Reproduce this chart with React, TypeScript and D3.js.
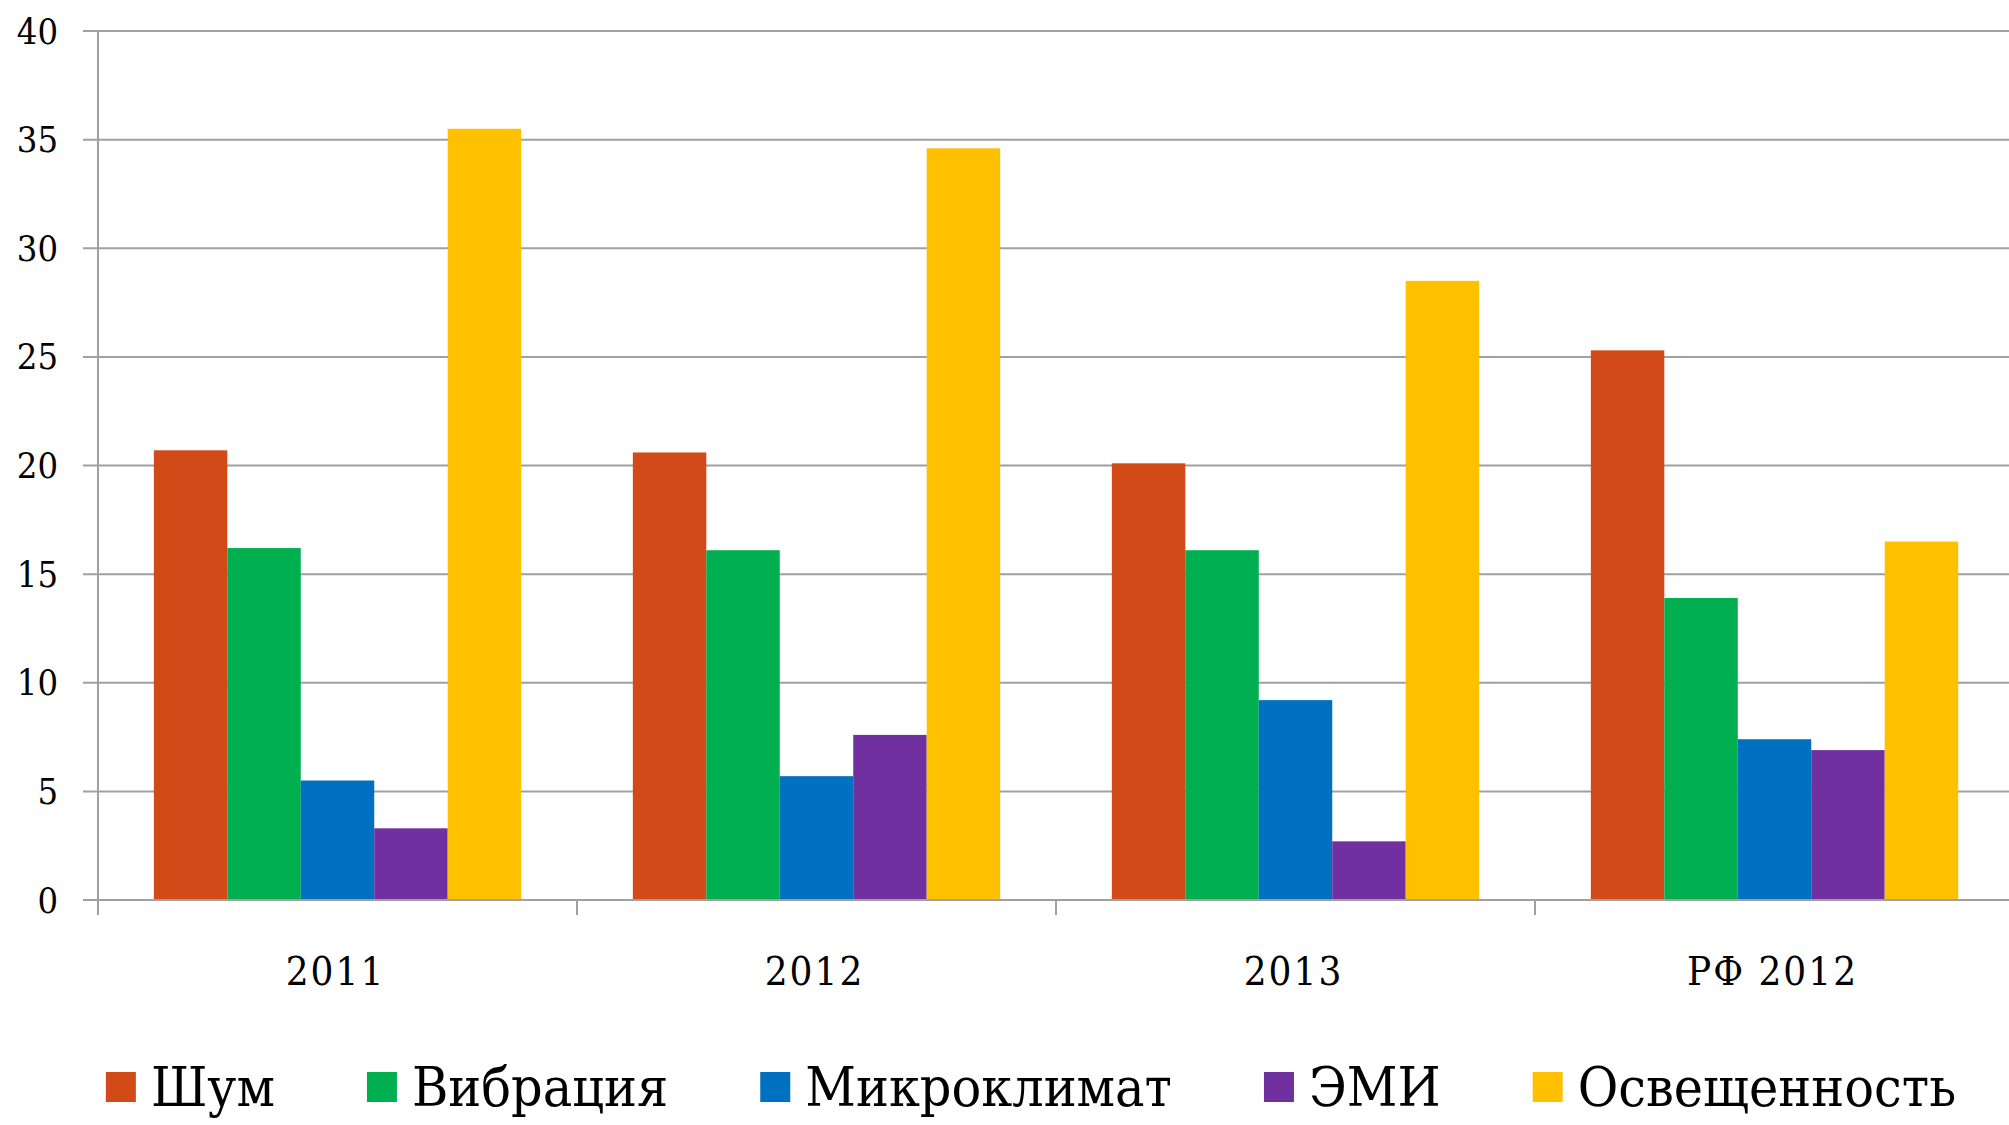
import React, { useEffect, useRef } from 'react';
import * as d3 from 'd3';

const categories = ['2011', '2012', '2013', 'РФ 2012'];
const seriesNames = ['Шум', 'Вибрация', 'Микроклимат', 'ЭМИ', 'Освещенность'];
const seriesColors = ['#D24A18', '#00B050', '#0070C0', '#7030A0', '#FFC000'];

const shum = [20.7, 20.6, 20.1, 25.3];
const vibraciya = [16.2, 16.1, 16.1, 13.9];
const mikroklimat = [5.5, 5.7, 9.2, 7.4];
const emi = [3.3, 7.6, 2.7, 6.9];
const osveshchennost = [35.5, 34.6, 28.5, 16.5];

const yTicks = [0, 5, 10, 15, 20, 25, 30, 35, 40];

const W = 2009;
const H = 1125;
const FONT = '"DejaVu Serif Condensed", "DejaVu Serif", serif';

export default function App() {
  const svgRef = useRef<SVGSVGElement>(null);

  useEffect(() => {
    const elm = svgRef.current;
    if (!elm) return;
    document.body.style.margin = '0';

    const values = [shum, vibraciya, mikroklimat, emi, osveshchennost];
    const svg = d3.select(elm).attr('width', W).attr('height', H);
    svg.selectAll('*').remove();

    const left = 98, right = 2014, top = 31, bottom = 900;

    const x0 = d3.scaleBand<string>().domain(categories).range([left, right]).padding(0);
    const x1 = d3.scaleBand<string>()
      .domain(seriesNames)
      .range([0, x0.bandwidth()])
      .paddingInner(0)
      .paddingOuter(0.76);
    const y = d3.scaleLinear().domain([0, 40]).range([bottom, top]);

    // gridlines + y ticks
    svg.append('g')
      .selectAll('line')
      .data(yTicks)
      .enter()
      .append('line')
      .attr('x1', left - 15)
      .attr('x2', W)
      .attr('y1', d => y(d))
      .attr('y2', d => y(d))
      .attr('stroke', '#A0A0A0')
      .attr('stroke-width', 2);

    svg.append('g')
      .selectAll('text')
      .data(yTicks)
      .enter()
      .append('text')
      .text(d => d)
      .attr('x', 58)
      .attr('y', d => y(d))
      .attr('dy', '0.35em')
      .attr('text-anchor', 'end')
      .attr('font-family', FONT)
      .attr('font-size', 36)
      .attr('fill', '#000');

    // bars
    const groups = svg.append('g')
      .selectAll('g')
      .data(categories)
      .enter()
      .append('g')
      .attr('transform', d => 'translate(' + x0(d) + ',0)');

    groups.selectAll('rect')
      .data((d, ci) => seriesNames.map((s, si) => ({ s, si, v: values[si][ci] })))
      .enter()
      .append('rect')
      .attr('x', d => x1(d.s)!)
      .attr('width', x1.bandwidth())
      .attr('y', d => y(d.v))
      .attr('height', d => y(0) - y(d.v))
      .attr('fill', d => seriesColors[d.si]);

    // axes
    svg.append('line')
      .attr('x1', left).attr('x2', left)
      .attr('y1', top).attr('y2', bottom + 15)
      .attr('stroke', '#A0A0A0').attr('stroke-width', 2);

    svg.append('line')
      .attr('x1', left - 15).attr('x2', W)
      .attr('y1', bottom).attr('y2', bottom)
      .attr('stroke', '#A0A0A0').attr('stroke-width', 2);

    svg.append('g')
      .selectAll('line')
      .data(categories.slice(1))
      .enter()
      .append('line')
      .attr('x1', d => x0(d)!)
      .attr('x2', d => x0(d)!)
      .attr('y1', bottom)
      .attr('y2', bottom + 15)
      .attr('stroke', '#A0A0A0')
      .attr('stroke-width', 2);

    svg.append('g')
      .selectAll('text')
      .data(categories)
      .enter()
      .append('text')
      .text(d => d)
      .attr('x', d => x0(d)! + x0.bandwidth() / 2 - 2)
      .attr('y', 985)
      .attr('text-anchor', 'middle')
      .attr('font-family', FONT)
      .attr('font-size', 40)
      .attr('letter-spacing', 2)
      .attr('fill', '#000');

    // legend
    const legend = svg.append('g');
    const items = legend.selectAll('g')
      .data(seriesNames)
      .enter()
      .append('g');
    items.append('rect')
      .attr('width', 30)
      .attr('height', 30)
      .attr('y', 1072)
      .attr('fill', (d, i) => seriesColors[i]);
    const labels = items.append('text')
      .text(d => d)
      .attr('x', 45)
      .attr('y', 1106)
      .attr('font-family', FONT)
      .attr('font-size', 55)
      .attr('fill', '#000');

    const widths: number[] = [];
    labels.each(function () {
      widths.push((this as SVGTextElement).getComputedTextLength());
    });
    const gap = 92;
    const itemW = widths.map(w => 45 + w);
    const total = d3.sum(itemW) + gap * (itemW.length - 1);
    let cx = 1031 - total / 2;
    items.attr('transform', (d, i) => {
      const t = 'translate(' + cx + ',0)';
      cx += itemW[i] + gap;
      return t;
    });
  }, []);

  return <svg ref={svgRef} style={{ display: 'block' }}></svg>;
}
